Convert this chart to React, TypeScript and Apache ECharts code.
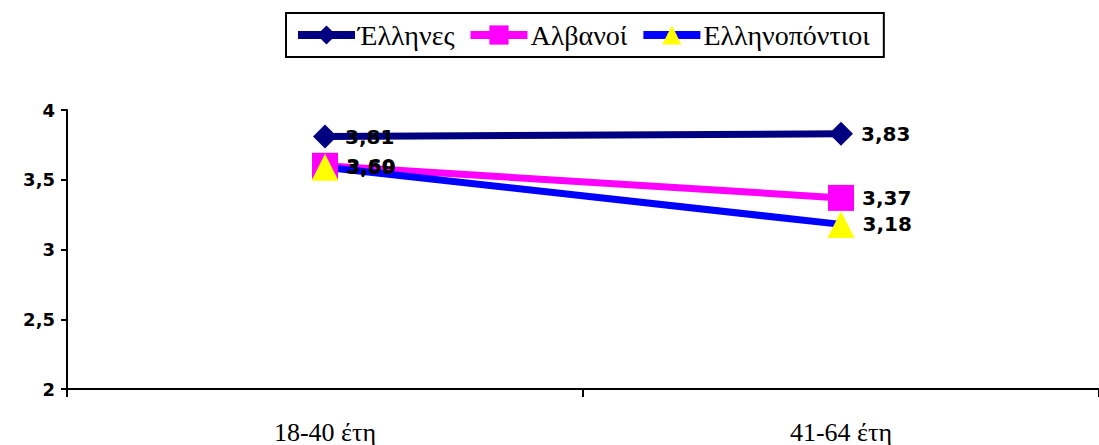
import React, { useEffect, useRef } from "react";
import * as echarts from "echarts";

const categories = ["18-40 έτη", "41-64 έτη"];
const ellines = [3.81, 3.83];
const albanoi = [3.6, 3.37];
const pontioi = [3.59, 3.18];
const seriesNames = ["Έλληνες", "Αλβανοί", "Ελληνοπόντιοι"];

const fmt = (v: number) => String(v).replace(".", ",");

export default function App() {
  const ref = useRef<HTMLDivElement>(null);
  useEffect(() => {
    const chart = echarts.init(ref.current!, null, { renderer: "svg" });
    const labelCfg = {
      show: true,
      position: "right" as const,
      distance: 8,
      color: "#000",
      fontWeight: "bold" as const,
      fontSize: 20,
      fontFamily: "DejaVu Sans",
      formatter: (p: any) => Number(p.value).toFixed(2).replace(".", ","),
    };
    chart.setOption({
      animation: false,
      grid: { left: 67, right: -6, top: 110, bottom: 55, containLabel: false },
      legend: {
        top: 13,
        left: 286,
        data: seriesNames,
        itemWidth: 57,
        itemHeight: 24,
        itemGap: 12,
        padding: [8, 14, 8, 8],
        borderColor: "#000",
        borderWidth: 2,
        lineStyle: { width: 8 },
        textStyle: { fontFamily: "Liberation Serif", fontSize: 28, color: "#000", padding: [0, 0, 0, -2] },
      },
      xAxis: {
        type: "category",
        data: categories,
        boundaryGap: true,
        axisLine: { lineStyle: { color: "#000", width: 2 } },
        axisTick: { show: true, length: 8, lineStyle: { color: "#000", width: 2 } },
        axisLabel: {
          fontFamily: "Liberation Serif",
          fontSize: 26,
          color: "#000",
          margin: 30,
        },
      },
      yAxis: {
        type: "value",
        min: 2,
        max: 4,
        interval: 0.5,
        splitLine: { show: false },
        axisLine: { show: true, lineStyle: { color: "#000", width: 2 } },
        axisTick: { show: true, length: 6, lineStyle: { color: "#000", width: 2 } },
        axisLabel: {
          formatter: (v: number) => fmt(v),
          fontFamily: "DejaVu Sans",
          fontWeight: "bold",
          fontSize: 18,
          color: "#000",
          margin: 12,
        },
      },
      series: [
        {
          name: seriesNames[0],
          type: "line",
          data: ellines,
          symbol: "diamond",
          symbolSize: 24,
          lineStyle: { color: "#000080", width: 7 },
          itemStyle: { color: "#000080" },
          label: labelCfg,
        },
        {
          name: seriesNames[1],
          type: "line",
          data: albanoi,
          symbol: "rect",
          symbolSize: 26,
          lineStyle: { color: "#FF00FF", width: 7 },
          itemStyle: { color: "#FF00FF" },
          label: labelCfg,
        },
        {
          name: seriesNames[2],
          type: "line",
          data: pontioi,
          symbol: "triangle",
          symbolSize: 27,
          lineStyle: { color: "#0000FF", width: 7 },
          itemStyle: { color: "#FFFF00" },
          label: labelCfg,
        },
      ],
    });
    return () => chart.dispose();
  }, []);
  return <div ref={ref} style={{ width: 1099, height: 445, position: "absolute", left: 0, top: 0 }} />;
}
